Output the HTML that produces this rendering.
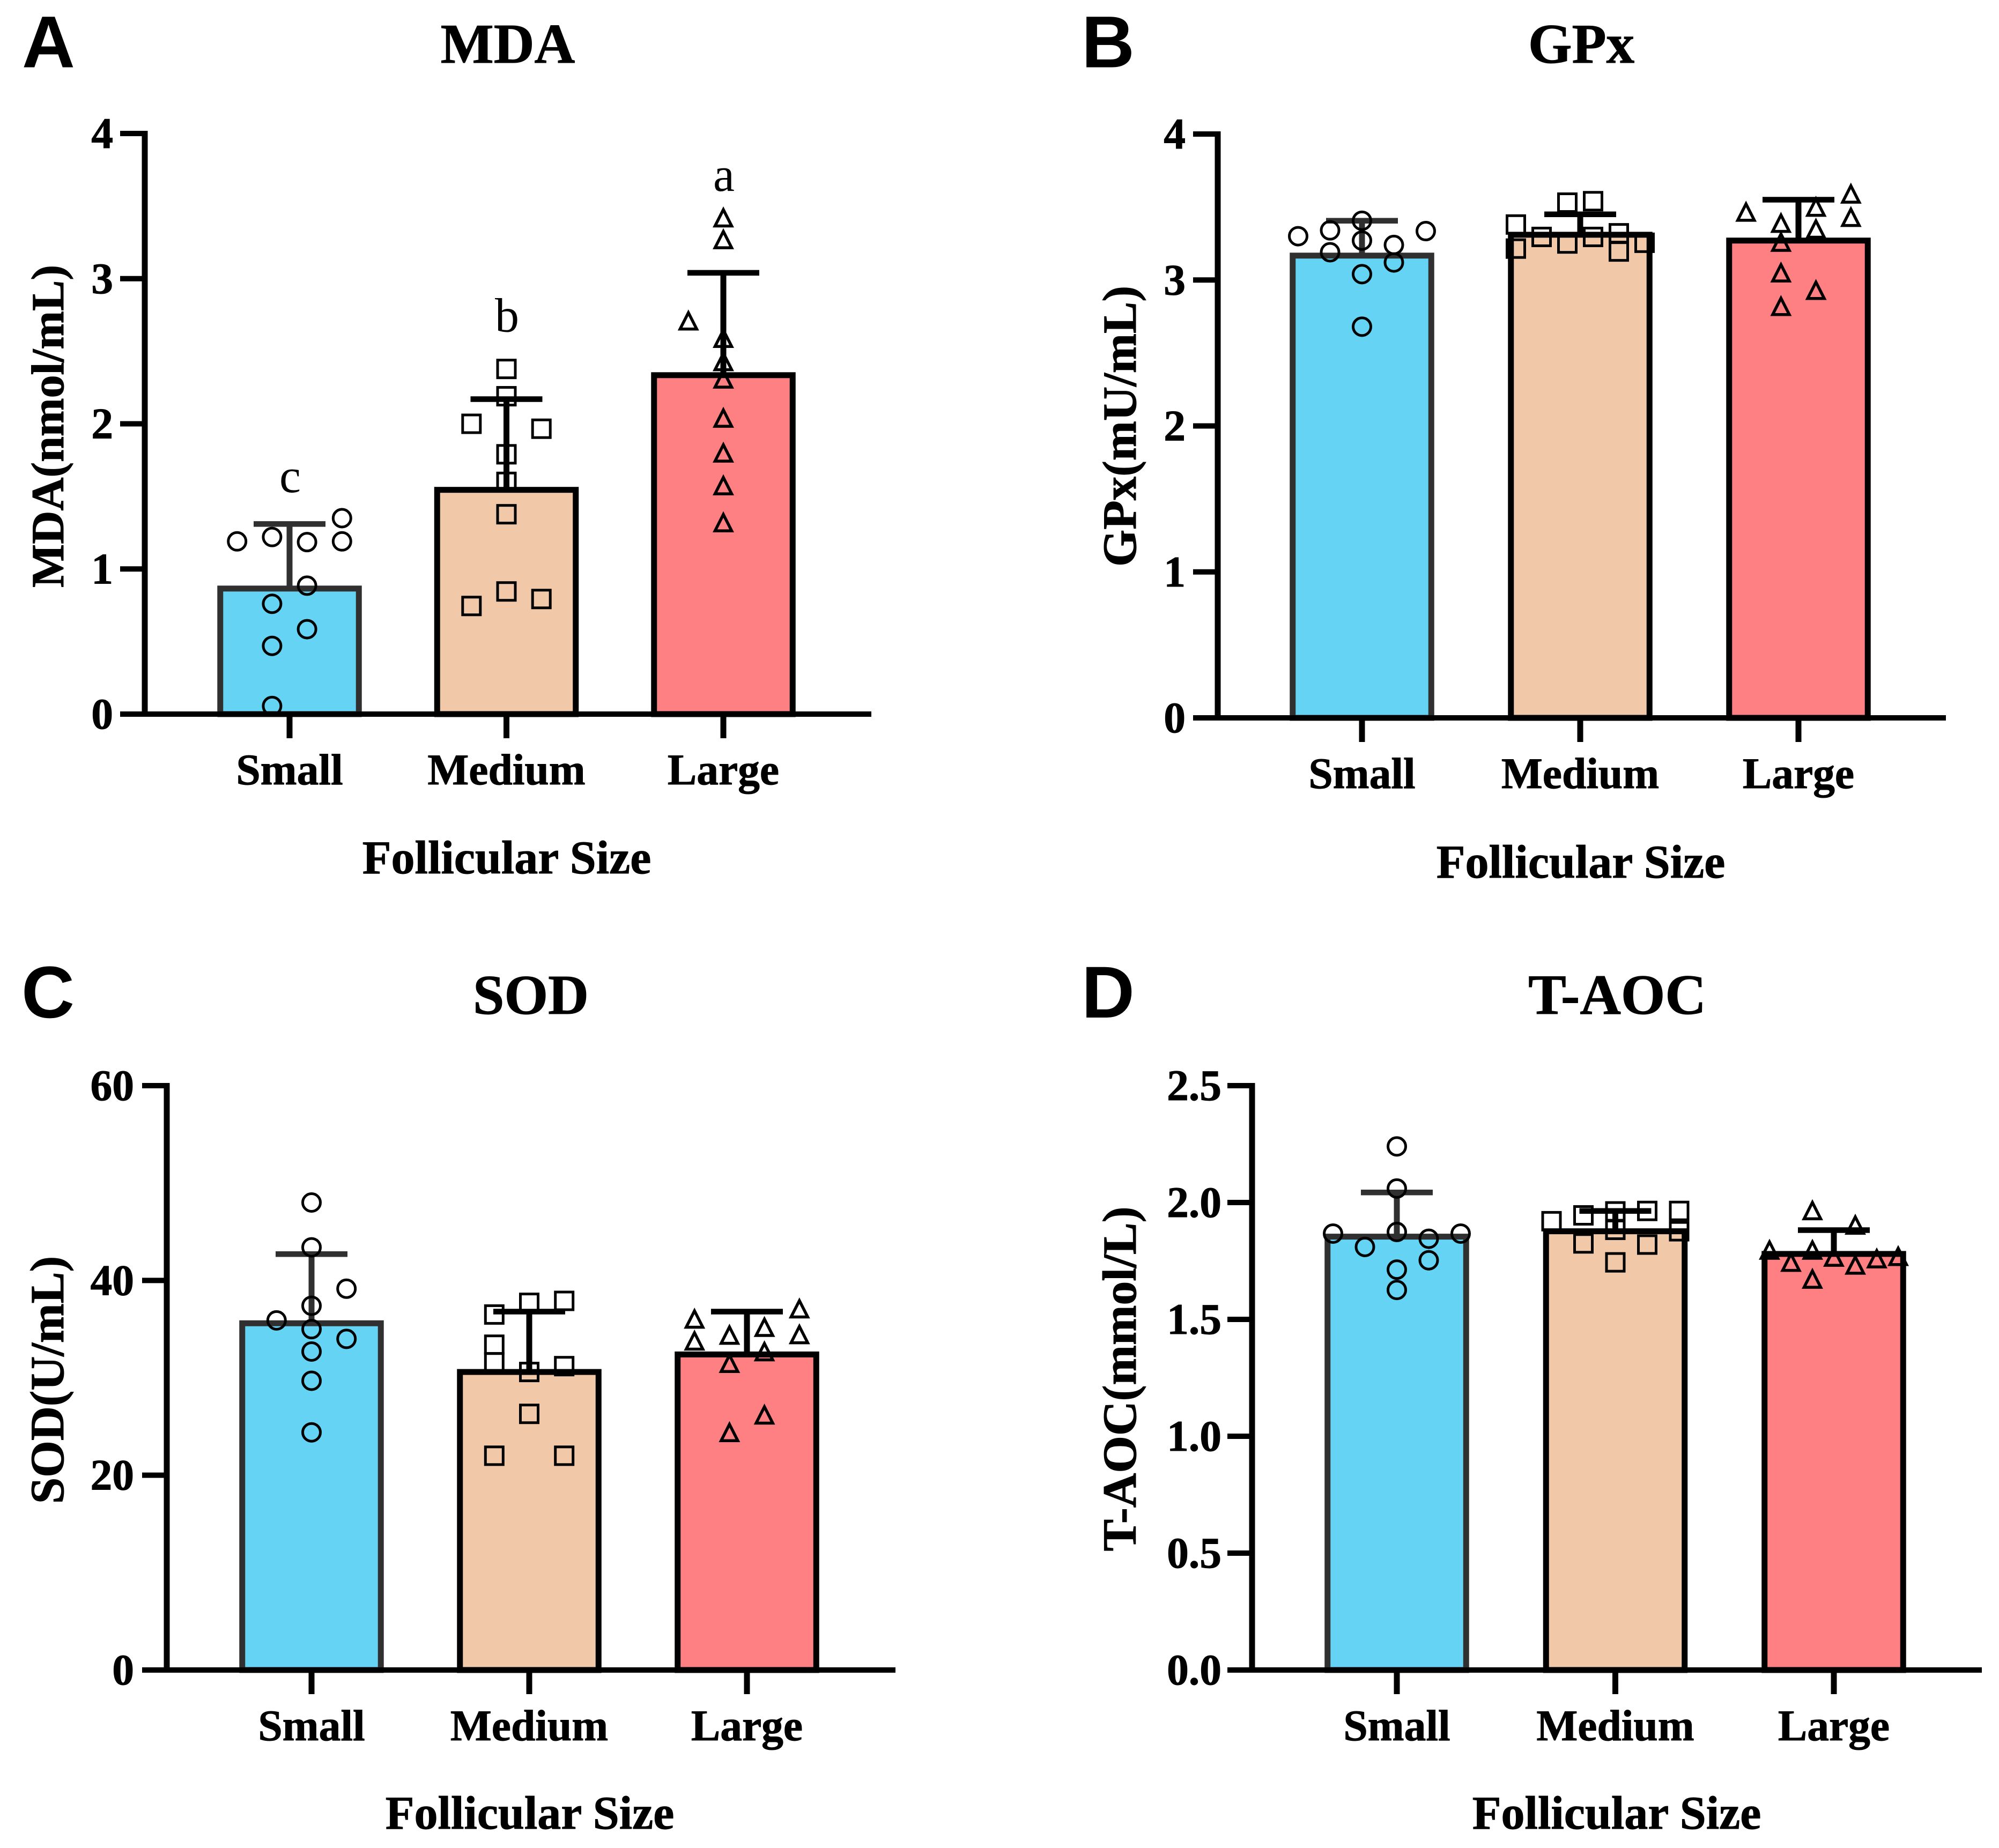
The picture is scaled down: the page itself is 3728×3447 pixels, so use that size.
<!DOCTYPE html>
<html lang="en">
<head>
<meta charset="utf-8">
<title>Oxidative stress markers by follicular size</title>
<style>
html,body{margin:0;padding:0;background:#fff;}
svg{display:block;}
text{font-family:"Liberation Serif",serif;font-weight:700;fill:#000;}
.tit{font-size:105px;text-anchor:middle;stroke:#000;stroke-width:1;}
.xt{font-size:81.5px;text-anchor:middle;stroke:#000;stroke-width:1;}
.yt{font-size:81.5px;text-anchor:end;stroke:#000;stroke-width:1;}
.axt{font-size:88px;text-anchor:middle;stroke:#000;stroke-width:1;}
.pl{font-family:"Liberation Sans",sans-serif;font-size:137px;}
.sig{font-size:90px;font-weight:400;text-anchor:middle;}
</style>
</head>
<body>
<svg id="figure" xmlns="http://www.w3.org/2000/svg" width="3728" height="3447" viewBox="0 0 3728 3447">
  <rect width="3728" height="3447" fill="#fff"/>

  <text class="pl" x="41" y="125.5">A</text>
  <text class="tit" x="947" y="117">MDA</text>
  <text class="axt" x="945" y="1629">Follicular Size</text>
  <text class="axt" style="font-size:86px" transform="translate(118 795) rotate(-90)">MDA(nmol/mL)</text>

  <text class="pl" x="2017" y="125.5">B</text>
  <text class="tit" x="2949" y="117">GPx</text>
  <text class="axt" x="2948" y="1637">Follicular Size</text>
  <text class="axt" style="font-size:89px" transform="translate(2118 795) rotate(-90)">GPx(mU/mL)</text>

  <text class="pl" x="40" y="1898">C</text>
  <text class="tit" x="990" y="1891">SOD</text>
  <text class="axt" x="988" y="3411">Follicular Size</text>
  <text class="axt" style="font-size:88.5px" transform="translate(118 2574) rotate(-90)">SOD(U/mL)</text>

  <text class="pl" x="2017" y="1898">D</text>
  <text class="tit" style="font-size:106px" x="3016" y="1891">T-AOC</text>
  <text class="axt" x="3015" y="3411">Follicular Size</text>
  <text class="axt" style="font-size:89.5px" transform="translate(2118 2572) rotate(-90)">T-AOC(mmol/L)</text>
</svg>

<script>
const categories = ['Small', 'Medium', 'Large'];

const mdaTicks = ['0', '1', '2', '3', '4'];
const mdaMeans = [0.865, 1.545, 2.335];
const mdaUpper = [1.31, 2.17, 3.04];
const mdaSmall = [1.35, 1.19, 1.22, 1.185, 1.19, 0.885, 0.76, 0.585, 0.47, 0.056];
const mdaSmallSlots = [3, -3, -1, 1, 3, 1, -1, 1, -1, -1];
const mdaMedium = [2.378, 2.19, 2.0, 1.966, 1.79, 1.6, 1.377, 0.845, 0.793, 0.745];
const mdaMediumSlots = [0, 0, -2, 2, 0, 0, 0, 0, 2, -2];
const mdaLarge = [3.42, 3.27, 2.71, 2.59, 2.43, 2.31, 2.04, 1.80, 1.575, 1.32];
const mdaLargeSlots = [0, 0, -2, 0, 0, 0, 0, 0, 0, 0];
const mdaLetters = ['c', 'b', 'a'];
const mdaLetterValues = [1.53, 2.635, 3.605];

const gpxTicks = ['0', '1', '2', '3', '4'];
const gpxMeans = [3.167, 3.31, 3.27];
const gpxUpper = [3.406, 3.45, 3.55];
const gpxSmall = [3.406, 3.335, 3.30, 3.34, 3.27, 3.24, 3.19, 3.12, 3.04, 2.68];
const gpxSmallSlots = [0, 2, -2, -1, 0, 1, -1, 1, 0, 0];
const gpxMedium = [3.53, 3.54, 3.38, 3.295, 3.32, 3.295, 3.25, 3.215, 3.195, 3.255];
const gpxMediumSlots = [-1, 1, -5, -3, 3, 1, -1, -5, 3, 5];
const gpxLarge = [3.59, 3.50, 3.466, 3.43, 3.39, 3.35, 3.26, 3.05, 2.93, 2.82];
const gpxLargeSlots = [3, 1, -3, 3, -1, 1, -1, -1, 1, -1];

const sodTicks = ['0', '20', '40', '60'];
const sodMeans = [35.6, 30.6, 32.4];
const sodUpper = [42.7, 36.8, 36.8];
const sodSmall = [48.0, 43.4, 39.15, 37.4, 35.9, 35.0, 34.0, 32.7, 29.7, 24.4];
const sodSmallSlots = [0, 0, 2, 0, -2, 0, 2, 0, 0, 0];
const sodMedium = [37.7, 37.9, 36.5, 33.4, 31.6, 31.2, 30.6, 26.3, 22.0, 22.0];
const sodMediumSlots = [0, 2, -2, -2, -2, 2, 0, 0, -2, 2];
const sodLarge = [37.1, 36.05, 35.2, 34.4, 34.45, 33.8, 32.7, 31.5, 26.2, 24.4];
const sodLargeSlots = [3, -3, 1, -1, 3, -3, 1, -1, 1, -1];

const taocTicks = ['0.0', '0.5', '1.0', '1.5', '2.0', '2.5'];
const taocMeans = [1.854, 1.877, 1.78];
const taocUpper = [2.043, 1.964, 1.882];
const taocSmall = [2.24, 2.06, 1.874, 1.867, 1.867, 1.845, 1.81, 1.753, 1.713, 1.626];
const taocSmallSlots = [0, 0, 0, -2, 2, 1, -1, 1, 0, 0];
const taocMedium = [1.964, 1.962, 1.964, 1.945, 1.92, 1.883, 1.877, 1.825, 1.82, 1.744];
const taocMediumSlots = [1, 0, 2, -1, -2, 0, 2, -1, 1, 0];
const taocLarge = [1.966, 1.904, 1.797, 1.797, 1.77, 1.767, 1.76, 1.745, 1.733, 1.673];
const taocLargeSlots = [-1, 1, -3, -1, 3, 0, 2, -2, 1, -1];

const NS = 'http://www.w3.org/2000/svg';
const figure = document.getElementById('figure');
const fills = ['#65D3F3', '#F1C9A9', '#FE8082'];
const edges = ['#303030', '#000000', '#000000'];

function make(parent, tag, attrs) {
  const el = document.createElementNS(NS, tag);
  for (const k in attrs) el.setAttribute(k, attrs[k]);
  parent.appendChild(el);
  return el;
}

function drawPanel(p) {
  const maxV = Number(p.ticks[p.ticks.length - 1]);
  const y = v => p.yBottom - (v / maxV) * (p.yBottom - p.yTop);
  const x = i => p.firstX + i * p.stepX;

  const g = make(figure, 'g', {});
  
  

  categories.forEach((cat, i) => {
    const bar = make(g, 'rect', {
      x: x(i) - 129.25, y: y(p.means[i]), width: 258.5,
      height: p.yBottom - y(p.means[i]),
      fill: fills[i], stroke: edges[i], 'stroke-width': 11
    });
    
    
  });

  categories.forEach((cat, i) => {
    const eg = make(g, 'g', { stroke: edges[i], fill: 'none' });
    
    
    make(eg, 'line', { x1: x(i), x2: x(i), y1: y(p.means[i]), y2: y(p.upper[i]), 'stroke-width': 11 });
    make(eg, 'line', { x1: x(i) - 67, x2: x(i) + 67, y1: y(p.upper[i]), y2: y(p.upper[i]), 'stroke-width': 10.5 });
  });

  const axes = make(g, 'g', { stroke: '#000', fill: 'none' });
  
  
  make(axes, 'line', { x1: p.axisX, x2: p.axisX, y1: p.yTop - 5, y2: p.yBottom + 5, 'stroke-width': 11 });
  make(axes, 'line', { x1: p.axisX - 46, x2: p.xEnd, y1: p.yBottom, y2: p.yBottom, 'stroke-width': 10 });

  p.ticks.forEach(label => {
    const ty = y(Number(label));
    make(axes, 'line', { x1: p.axisX - 46, x2: p.axisX, y1: ty, y2: ty, 'stroke-width': 10 });
    const t = make(g, 'text', { class: 'yt', x: p.labelRight, y: ty + 27 });
    t.textContent = label;
    
    
  });

  categories.forEach((cat, i) => {
    make(axes, 'line', { x1: x(i), x2: x(i), y1: p.yBottom, y2: p.yBottom + 45, 'stroke-width': 11 });
    const t = make(g, 'text', { class: 'xt', x: x(i), y: p.xLabelY });
    t.textContent = cat;
    
    
  });

  p.points.forEach((vals, i) => {
    const pg = make(g, 'g', { fill: 'none', stroke: '#000', 'stroke-width': 5 });
    
    
    vals.forEach((v, j) => {
      const cx = x(i) + p.slots[i][j] * p.slotStep[i];
      const cy = y(v);
      let m;
      if (i === 0) {
        m = make(pg, 'circle', { cx: cx, cy: cy, r: 16.5 });
      } else if (i === 1) {
        m = make(pg, 'rect', { x: cx - 16.5, y: cy - 16.5, width: 33, height: 33 });
      } else {
        const pts = [[cx, cy - 15], [cx + 15.5, cy + 15.5], [cx - 15.5, cy + 15.5]];
        m = make(pg, 'polygon', { points: pts.map(q => q.join(',')).join(' '), 'stroke-width': 5.5 });
      }
      
      
    });
  });

  if (p.letters) {
    p.letters.forEach((s, i) => {
      const t = make(g, 'text', { class: 'sig', x: x(i) + 1, y: y(p.letterValues[i]) });
      t.textContent = s;
      
      
    });
  }
}

drawPanel({
  name: 'mda', ticks: mdaTicks, means: mdaMeans, upper: mdaUpper,
  points: [mdaSmall, mdaMedium, mdaLarge],
  slots: [mdaSmallSlots, mdaMediumSlots, mdaLargeSlots],
  slotStep: [32.6, 32.6, 32.6],
  letters: mdaLetters, letterValues: mdaLetterValues,
  axisX: 270, yTop: 249, yBottom: 1332, xEnd: 1625,
  firstX: 540, stepX: 404.5, labelRight: 211, xLabelY: 1463
});
drawPanel({
  name: 'gpx', ticks: gpxTicks, means: gpxMeans, upper: gpxUpper,
  points: [gpxSmall, gpxMedium, gpxLarge],
  slots: [gpxSmallSlots, gpxMediumSlots, gpxLargeSlots],
  slotStep: [59.5, 24, 32.6],
  axisX: 2271, yTop: 250, yBottom: 1339, xEnd: 3629,
  firstX: 2540, stepX: 407, labelRight: 2211, xLabelY: 1470
});
drawPanel({
  name: 'sod', ticks: sodTicks, means: sodMeans, upper: sodUpper,
  points: [sodSmall, sodMedium, sodLarge],
  slots: [sodSmallSlots, sodMediumSlots, sodLargeSlots],
  slotStep: [32.6, 32.6, 32.6],
  axisX: 311, yTop: 2025, yBottom: 3115, xEnd: 1670,
  firstX: 581, stepX: 406, labelRight: 250, xLabelY: 3246
});
drawPanel({
  name: 't-aoc', ticks: taocTicks, means: taocMeans, upper: taocUpper,
  points: [taocSmall, taocMedium, taocLarge],
  slots: [taocSmallSlots, taocMediumSlots, taocLargeSlots],
  slotStep: [59.5, 59.5, 40],
  axisX: 2335, yTop: 2025, yBottom: 3115, xEnd: 3696,
  firstX: 2605, stepX: 407.5, labelRight: 2278, xLabelY: 3246
});
</script>
</body>
</html>
